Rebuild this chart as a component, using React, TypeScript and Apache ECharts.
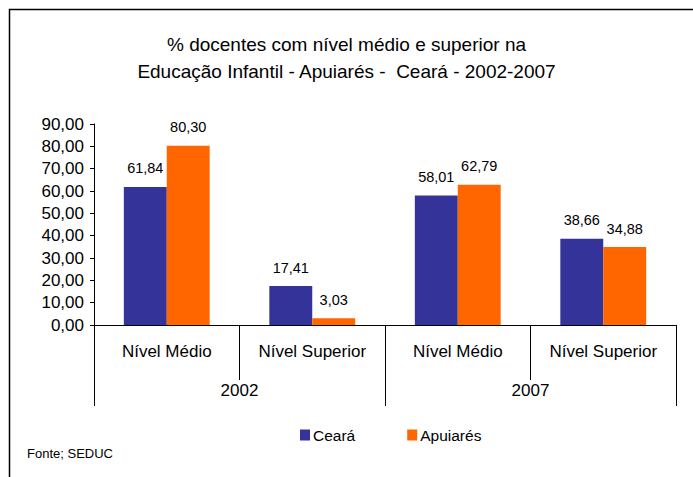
import React, { useEffect, useRef } from "react";
import * as echarts from "echarts";

const categories = ["Nível Médio", "Nível Superior", "Nível Médio", "Nível Superior"];
const years = ["2002", "2007"];
const cearaValues = [61.84, 17.41, 58.01, 38.66];
const apuiaresValues = [80.3, 3.03, 62.79, 34.88];
const titleText = "% docentes com nível médio e superior na\nEducação Infantil - Apuiarés -  Ceará - 2002-2007";
const sourceText = "Fonte; SEDUC";

const FONT = "Liberation Sans, Arial, sans-serif";
const fmt = (v: number) => v.toFixed(2).replace(".", ",");

export default function App() {
  const ref = useRef<HTMLDivElement>(null);
  useEffect(() => {
    if (!ref.current) return;
    const chart = echarts.init(ref.current, null, { renderer: "svg" });
    const labelStyle = {
      show: true,
      position: "top" as const,
      distance: 11,
      fontFamily: FONT,
      fontSize: 14.5,
      color: "#000",
      formatter: (p: any) => fmt(p.value),
    };
    chart.setOption({
      animation: false,
      backgroundColor: "#fff",
      title: {
        text: titleText,
        left: "center",
        top: 26,
        textStyle: {
          fontFamily: FONT,
          fontSize: 19,
          fontWeight: "normal",
          color: "#000",
          lineHeight: 27,
        },
      },
      legend: {
        left: 295,
        top: 422,
        itemWidth: 10,
        itemHeight: 11,
        itemGap: 52,
        icon: "rect",
        textStyle: { fontFamily: FONT, fontSize: 15.5, color: "#000", padding: [0, 0, 0, -2] },
        data: ["Ceará", "Apuiarés"],
      },
      grid: { left: 94, right: 17, top: 124, bottom: 152 },
      xAxis: [
        {
          type: "category",
          data: categories,
          position: "bottom",
          axisLine: { lineStyle: { color: "#000", width: 1 } },
          axisTick: { show: true, length: 55, lineStyle: { color: "#000" } },
          axisLabel: { margin: 18, fontFamily: FONT, fontSize: 17, color: "#000" },
        },
        {
          type: "category",
          data: years,
          position: "bottom",
          axisLine: { show: false },
          axisTick: { show: true, length: 81, lineStyle: { color: "#000" } },
          axisLabel: { margin: 57, fontFamily: FONT, fontSize: 17, color: "#000" },
        },
      ],
      yAxis: {
        type: "value",
        min: 0,
        max: 90,
        interval: 10,
        axisLine: { show: true, lineStyle: { color: "#000" } },
        axisTick: { show: true, length: 4, lineStyle: { color: "#000" } },
        splitLine: { show: false },
        axisLabel: {
          margin: 10,
          fontFamily: FONT,
          fontSize: 17,
          color: "#000",
          formatter: (v: number) => fmt(v),
        },
      },
      series: [
        {
          name: "Ceará",
          type: "bar",
          data: cearaValues,
          xAxisIndex: 0,
          barGap: "0%",
          barCategoryGap: "41%",
          itemStyle: { color: "#333399" },
          label: labelStyle,
        },
        {
          name: "Apuiarés",
          type: "bar",
          data: apuiaresValues,
          xAxisIndex: 0,
          itemStyle: { color: "#FF6600" },
          label: labelStyle,
        },
      ],
      graphic: [
        {
          type: "polyline",
          shape: { points: [[9.5, 480], [9.5, 9.5], [700, 9.5]] },
          style: { stroke: "#000", lineWidth: 1.5, fill: "none" },
          silent: true,
        },
        {
          type: "text",
          left: 27,
          top: 447,
          style: { text: sourceText, fontFamily: FONT, fontSize: 13, fill: "#000" },
        },
      ],
    });
    return () => chart.dispose();
  }, []);
  return (
    <div
      ref={ref}
      style={{ position: "absolute", left: 0, top: 0, width: 693, height: 477 }}
    />
  );
}
